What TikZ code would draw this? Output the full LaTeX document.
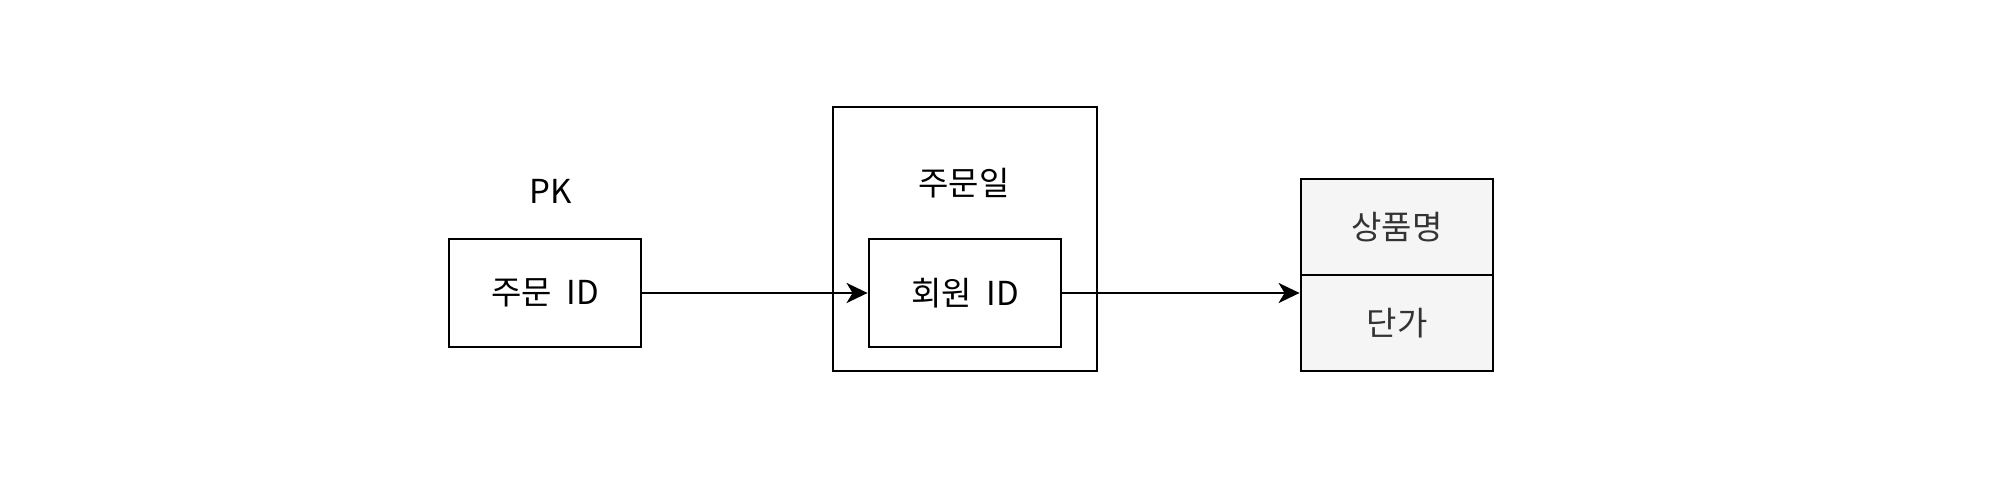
\documentclass[tikz,border=0pt]{standalone}
\usepackage{fontspec}
\setmainfont{Noto Sans CJK KR}
\usetikzlibrary{arrows.meta,positioning}
\definecolor{cellfill}{HTML}{F5F5F5}
\definecolor{celltext}{HTML}{333333}

\begin{document}
\begin{tikzpicture}[
  x=0.5pt, y=-0.5pt,
  every node/.style={font=\fontsize{16.5}{20}\selectfont},
  keybox/.style={rectangle, draw, line width=1.4pt, minimum width=96pt, minimum height=54pt, inner sep=0pt},
  cell/.style={rectangle, draw, line width=1.4pt, fill=cellfill, text=celltext, minimum width=96pt, minimum height=48pt, inner sep=0pt},
  arr/.style={-{Stealth[length=10.5pt, width=10pt, inset=3pt]}, line width=1.4pt},
]
\useasboundingbox (0,0) rectangle (1994,486);

% order key
\node[keybox] (orderid) at (545,293) {주문\ \ ID};
\node (pk) at (551,191) {PK};

% order date group
\node[rectangle, draw, line width=1.4pt, minimum width=132pt, minimum height=132pt] (orderdate) at (965,239) {};
\node (datelabel) at (964,183) {주문일};
\node[keybox] (memberid) at (965,293) {회원\ \ ID};

% product table
\node[cell] (prodname) at (1397,227) {상품명};
\node[cell] (price) at (1397,323) {단가};

\draw[arr] (orderid.east) -- (memberid.west);
\draw[arr] (memberid.east) -- (memberid.east -| price.west);

\end{tikzpicture}
\end{document}
